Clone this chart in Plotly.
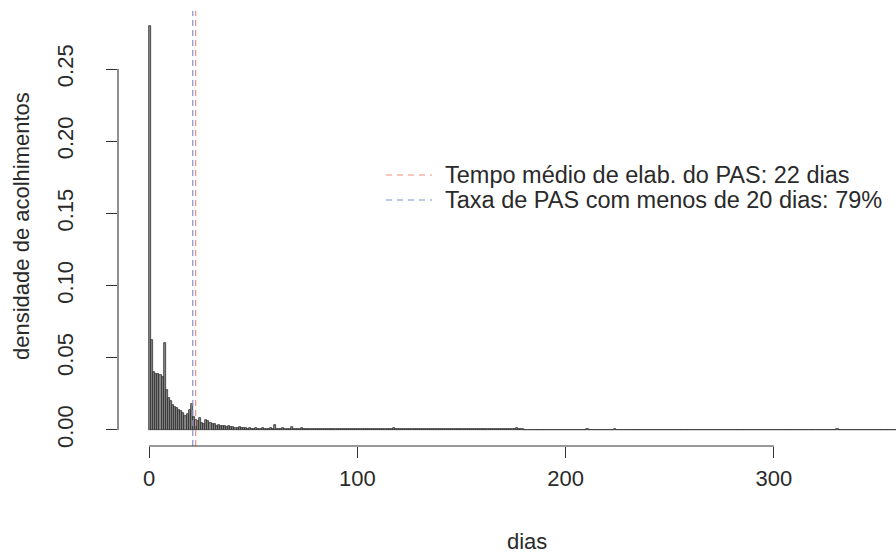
import plotly.graph_objects as go

# density per day, in units of 1/1000
dens_permil = [
    280, 62, 40, 39, 39, 38, 37, 60, 28, 22,
    20, 17, 16, 15, 14, 13, 12, 10, 11, 14,
    18, 9, 7, 6, 8, 5, 4, 7, 6, 5,
    4, 4, 3, 3.5, 3, 2.5, 2.5, 2, 2.5, 2,
    2, 1.5, 1.5, 2, 1.5, 1.2, 1.5, 1, 1.3, 1,
    1, 1.3, 0.9, 1, 1.2, 0.8, 1, 0.9, 1.4, 1,
    3.5, 1, 0.8, 0.9, 1.2, 0.8, 0.9, 0.8, 2, 0.9,
    0.8, 0.9, 0.7, 1.1, 0.8, 0.7, 0.9, 0.7, 0.8, 0.7,
    1, 0.7, 0.8, 0.6, 0.7, 0.8, 1, 0.6, 0.7, 0.6,
    0.7, 0.6, 1, 0.7, 0.6, 0.7, 0.6, 0.8, 0.6, 0.7,
    0.6, 1, 0.7, 0.6, 0.8, 0.6, 0.6, 1, 0.7, 0.6,
    0.6, 0.7, 0.6, 1, 0.6, 0.7, 0.6, 1.5, 0.6, 0.7,
    0.6, 0.5, 0.7, 0.6, 0.9, 0.6, 0.5, 0.6, 0.7, 0.5,
    0.6, 0.9, 0.6, 0.5, 0.6, 0.7, 0.5, 0.6, 0.9, 0.6,
    0.5, 0.6, 0.7, 0.5, 0.6, 0.9, 0.6, 0.5, 0.6, 0.5,
    0.6, 0.5, 0.9, 0.6, 0.5, 0.7, 0.6, 0.5, 0.9, 0.6,
    0.5, 0.6, 0.5, 0.9, 0.6, 0.7, 0.5, 0.6, 0.8, 1,
    0.6, 0.7, 0.5, 1, 0.6, 0.5, 1.1, 0.7, 0.6, 0.5,
    0.3, 0.2, 0.3, 0.2, 0.2, 0.3, 0.2, 0.2, 0.3, 0.2,
    0.2, 0.3, 0.2, 0.2, 0.2, 0.3, 0.2, 0.2, 0.2, 0.3,
    0.2, 0.2, 0.3, 0.2, 0.2, 0.2, 0.3, 0.2, 0.2, 0.2,
    0.8, 0.2, 0.3, 0.2, 0.2, 0.2, 0.2, 0.3, 0.2, 0.2,
    0.2, 0.2, 0.2, 0.5, 0.2, 0.2, 0.2, 0.2, 0.2, 0.3,
    0.2, 0.2, 0.2, 0.2, 0.3, 0.2, 0.2, 0.2, 0.2, 0.2,
    0.2, 0.3, 0.2, 0.2, 0.2, 0.2, 0.2, 0.2, 0.3, 0.2,
    0.2, 0.2, 0.2, 0.2, 0.2, 0.3, 0.2, 0.2, 0.2, 0.2,
    0.2, 0.2, 0.3, 0.2, 0.2, 0.2, 0.2, 0.2, 0.2, 0.2,
    0.3, 0.2, 0.2, 0.2, 0.2, 0.2, 0.2, 0.3, 0.2, 0.2,
    0.2, 0.2, 0.2, 0.2, 0.2, 0.3, 0.2, 0.2, 0.2, 0.2,
    0.2, 0.3, 0.2, 0.2, 0.2, 0.2, 0.2, 0.2, 0.2, 0.3,
    0.2, 0.2, 0.2, 0.2, 0.2, 0.2, 0.3, 0.2, 0.2, 0.2,
    0.2, 0.2, 0.2, 0.3, 0.2, 0.2, 0.2, 0.2, 0.2, 0.2,
    0.2, 0.2, 0.2, 0.2, 0.2, 0.2, 0.2, 0.3, 0.2, 0.2,
    0.8, 0.2, 0.2, 0.2, 0.2, 0.2, 0.2, 0.2, 0.2, 0.2,
    0.2, 0.2, 0.2, 0.2, 0.3, 0.2, 0.2, 0.2, 0.2, 0.2,
    0.2, 0.2, 0.2, 0.2, 0.2, 0.2, 0.2, 0.3, 0.2, 0.2,
    0.2, 0.2, 0.2, 0.2, 0.2, 0.2, 0.2, 0.2, 0.2, 0.2,
]

x_ticks = [0, 100, 200, 300]
x_tick_text = ["0", "100", "200", "300"]
y_ticks = [0.00, 0.05, 0.10, 0.15, 0.20, 0.25]
y_tick_text = ["0.00", "0.05", "0.10", "0.15", "0.20", "0.25"]

limite_dias = 21      # blue dashed line
tempo_medio = 22.4    # red dashed line

legend_labels = [
    "Tempo médio de elab. do PAS: 22 dias",
    "Taxa de PAS com menos de 20 dias: 79%",
]
legend_colors = ["#ef8e7c", "#7f92cf"]

x_title = "dias"
y_title = "densidade de acolhimentos"

dias = list(range(len(dens_permil)))
densidade = [v / 1000 for v in dens_permil]

W, H = 896, 553
ML, MR, MT, MB = 118, 0, 11, 107
PW, PH = W - ML - MR, H - MT - MB


def px_x(px):
    return (px - ML) / PW


def px_y(py):
    return (H - MB - py) / PH


TXT = "#2a2a2a"
FONT = "Liberation Sans, Arial, sans-serif"

fig = go.Figure()
fig.add_trace(go.Bar(
    x=[d + 0.5 for d in dias], y=densidade, width=1,
    marker=dict(color="#8a8a8a", line=dict(color="#1c1c1c", width=0.7)),
    showlegend=False, hoverinfo="x+y",
))

shapes = []
# vertical dashed reference lines
for xv, col in [(limite_dias, legend_colors[1]), (tempo_medio, legend_colors[0])]:
    shapes.append(dict(type="line", xref="x", yref="paper", x0=xv, x1=xv, y0=0, y1=1,
                       line=dict(color=col, width=1.2, dash="6px,4px")))
# R-style axis lines spanning only the tick range
shapes.append(dict(type="line", xref="x", yref="paper", x0=x_ticks[0], x1=x_ticks[-1],
                   y0=0, y1=0, line=dict(color="#333", width=1.1)))
shapes.append(dict(type="line", xref="paper", yref="y", x0=0, x1=0,
                   y0=y_ticks[0], y1=y_ticks[-1], line=dict(color="#333", width=1.1)))

annotations = []
leg_rows = [175, 200]
for lab, col, ry in zip(legend_labels, legend_colors, leg_rows):
    shapes.append(dict(type="line", xref="paper", yref="paper",
                       x0=px_x(386), x1=px_x(432), y0=px_y(ry), y1=px_y(ry),
                       line=dict(color=col, width=1.2, dash="6px,5px")))
    annotations.append(dict(text=lab, xref="paper", yref="paper", x=px_x(443), y=px_y(ry),
                            xanchor="left", yanchor="middle", showarrow=False,
                            font=dict(size=23.5, color=TXT, family=FONT)))

annotations.append(dict(text=x_title, xref="paper", yref="paper", x=px_x(527), y=px_y(541),
                        xanchor="center", yanchor="middle", showarrow=False,
                        font=dict(size=22, color=TXT, family=FONT)))
annotations.append(dict(text=y_title, xref="paper", yref="paper", x=px_x(22), y=px_y(226),
                        xanchor="center", yanchor="middle", showarrow=False, textangle=-90,
                        font=dict(size=22, color=TXT, family=FONT)))

fig.update_layout(
    width=W, height=H,
    margin=dict(l=ML, r=MR, t=MT, b=MB, autoexpand=False),
    paper_bgcolor="white", plot_bgcolor="white",
    font=dict(family=FONT, color=TXT, size=22),
    shapes=shapes, annotations=annotations,
    xaxis=dict(range=[-14.9, 358.6], tickvals=x_ticks, ticktext=x_tick_text,
               ticks="outside", ticklen=11, tickcolor="#333", tickwidth=1.1,
               showline=False, showgrid=False, zeroline=False,
               ticklabelstandoff=2, tickfont=dict(size=22, color=TXT)),
    yaxis=dict(range=[-0.0111, 0.2902], tickvals=y_ticks, ticktext=y_tick_text,
               ticks="outside", ticklen=11, tickcolor="#333", tickwidth=1.1,
               showline=False, showgrid=False, zeroline=False, tickangle=-90,
               ticklabelstandoff=24, tickfont=dict(size=22, color=TXT)),
    showlegend=False, bargap=0,
)

fig.write_html("out.html")
